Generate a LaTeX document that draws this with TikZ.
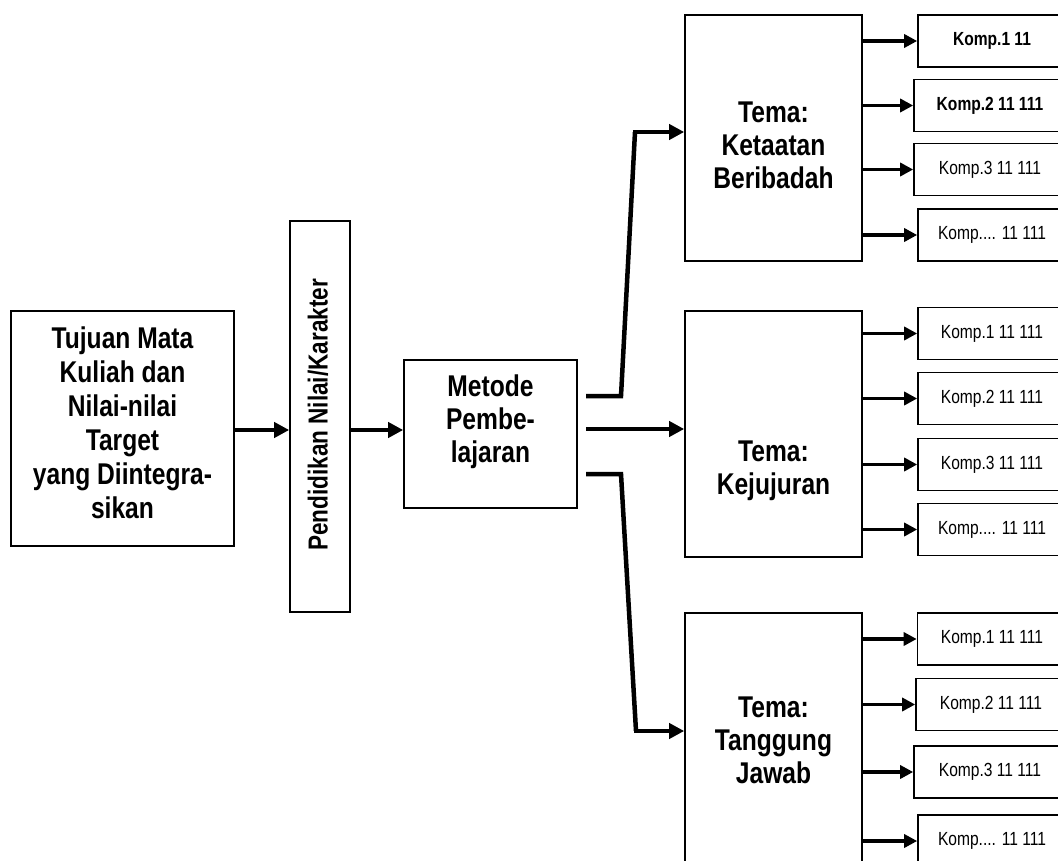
\documentclass[tikz,border=0pt]{standalone}
\usepackage{fontspec}
\setmainfont{Liberation Sans}
\newfontfamily\narrowfont{Liberation Sans}[FakeStretch=0.82]
\usetikzlibrary{arrows.meta}

\tikzset{
  box/.style={draw, line width=1.6pt, inner sep=0pt},
  bigtext/.style={align=center, inner sep=0pt, font=\narrowfont\bfseries\fontsize{30}{33}\selectfont},
  komp/.style={box, minimum width=148pt, minimum height=52pt, font=\narrowfont\fontsize{19}{22}\selectfont},
  kompb/.style={komp, font=\narrowfont\bfseries\fontsize{19}{22}\selectfont},
  flow/.style={line width=4.5pt, -{Triangle[length=15pt,width=15pt]}},
  kflow/.style={line width=3.5pt, -{Triangle[length=13pt,width=13pt]}},
  stub/.style={line width=4.5pt}
}

\begin{document}
\begin{tikzpicture}[x=1pt,y=-1pt]
	\useasboundingbox (0,0) rectangle (1058,861);

	% left part
	\node[box, minimum width=223pt, minimum height=235pt] (tujuan) at (122.5,428.5) {};
	\node[bigtext, font=\narrowfont\bfseries\fontsize{30}{34}\selectfont] (tujuantxt) at (122.5,423) {Tujuan Mata\\Kuliah dan\\Nilai-nilai\\Target\\yang Diintegra-\\sikan};
	\node[box, minimum width=60pt, minimum height=391pt] (pend) at (320,416.5) {};
	\node[bigtext, rotate=90, font=\narrowfont\bfseries\fontsize{27.5}{30}\selectfont] (pendtxt) at (318,415) {Pendidikan Nilai/Karakter};
	\node[box, minimum width=173pt, minimum height=148pt] (metode) at (490.5,434) {};
	\node[bigtext] (metodetxt) at (490.5,422) {Metode\\Pembe-\\lajaran};

	\draw[flow] (tujuan.east |- 0,430) -- (pend.west |- 0,430);
	\draw[flow] (pend.east |- 0,430) -- (metode.west |- 0,430);

	% tema boxes
	\node[box, minimum width=177pt, minimum height=246pt] (tema1) at (773.5,138) {};
	\node[bigtext] (tema1txt) at (773.5,145) {Tema:\\Ketaatan\\Beribadah};
	\node[box, minimum width=177pt, minimum height=246pt] (tema2) at (773.5,434) {};
	\node[bigtext] (tema2txt) at (773.5,471) {Tema:\\Kejujuran};
	\node[box, minimum width=177pt, minimum height=257pt] (tema3) at (773.5,741.5) {};
	\node[bigtext] (tema3txt) at (773.5,740) {Tema:\\Tanggung\\Jawab};

	% branches
	\coordinate (btop) at (586,396);
	\coordinate (bmid) at (586,429);
	\coordinate (bbot) at (586,474);
	\coordinate (ktop) at (621,396);
	\coordinate (kbot) at (621,474);
	\coordinate (etop) at (635,132);
	\coordinate (ebot) at (636,731);
	\draw[stub] (btop) -- (ktop) -- (etop);
	\draw[flow] ([xshift=-2.2pt]etop) -- (etop -| tema1.west);
	\draw[flow] (bmid) -- (bmid -| tema2.west);
	\draw[stub] (bbot) -- (kbot) -- (ebot);
	\draw[flow] ([xshift=-2.2pt]ebot) -- (ebot -| tema3.west);

	% komp boxes
	\node[kompb] (k11) at (992,41) {Komp.1 11};
	\node[kompb, minimum width=152pt] (k12) at (990,105.5) {Komp.2 11 111};
	\node[komp, minimum width=152pt] (k13) at (990,169.5) {Komp.3 11 111};
	\node[komp] (k14) at (992,235) {Komp.... 11 111};
	\node[komp] (k21) at (992,333.5) {Komp.1 11 111};
	\node[komp] (k22) at (992,398.5) {Komp.2 11 111};
	\node[komp] (k23) at (992,464.5) {Komp.3 11 111};
	\node[komp] (k24) at (992,529.5) {Komp.... 11 111};
	\node[komp, minimum width=149pt] (k31) at (992,639) {Komp.1 11 111};
	\node[komp, minimum width=150pt] (k32) at (991,704.5) {Komp.2 11 111};
	\node[komp, minimum width=152pt] (k33) at (990,772) {Komp.3 11 111};
	\node[komp] (k34) at (992,841) {Komp.... 11 111};

	\foreach \t/\k in {tema1/k11,tema1/k12,tema1/k13,tema1/k14,tema2/k21,tema2/k22,tema2/k23,tema2/k24,tema3/k31,tema3/k32,tema3/k33,tema3/k34}
		\draw[kflow] ([xshift=-2pt]\k.west -| \t.east) -- (\k.west);
\end{tikzpicture}
\end{document}
